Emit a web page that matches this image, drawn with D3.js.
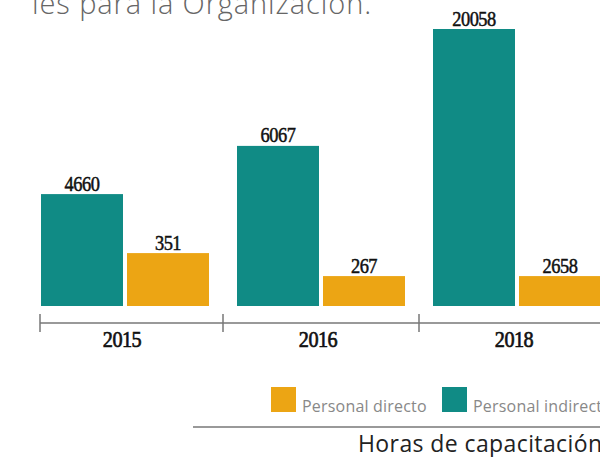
<!DOCTYPE html>
<html>
<head>
<meta charset="utf-8">
<script src="https://cdn.jsdelivr.net/npm/d3@7"></script>
<style>
  body { margin: 0; background: #fff; }
  svg { display: block; }
</style>
</head>
<body>
<svg id="chart" width="600" height="457"></svg>
<script>
// data
const years = ["2015", "2016", "2018"];
const series = ["Personal indirecto", "Personal directo"];
const indirecto = [4660, 6067, 20058];
const directo = [351, 267, 2658];
// drawn bar length in the infographic (index, tallest = 100), bars are not to scale with the labels
const indirectoLevel = [40.4, 57.8, 100];
const directoLevel = [19.1, 10.8, 10.8];
const colors = ["#108b85", "#eca514"];

const svg = d3.select("#chart");
const numFont = "'Liberation Serif', 'DejaVu Serif', serif";
const sansFont = "'Open Sans', 'Lato', sans-serif";

// title fragment, cut off by the top edge like in the source
svg.append("text")
    .attr("x", 32)
    .attr("y", 14)
    .attr("font-family", sansFont)
    .attr("font-weight", 300)
    .attr("font-size", 29)
    .attr("letter-spacing", 0.9)
    .attr("fill", "#666")
    .text("les para la Organización.");

const x = d3.scaleBand()
    .domain(years)
    .range([41, 601])
    .paddingInner(28 / 196)
    .paddingOuter(0);

const xInner = d3.scaleBand()
    .domain(series)
    .range([0, x.bandwidth()])
    .paddingInner(0.0465);

const y = d3.scaleLinear()
    .domain([0, 100])
    .range([306, 29]);

const rows = years.map((yr, i) => ({
    year: yr,
    bars: [
        { key: series[0], value: indirecto[i], level: indirectoLevel[i], color: colors[0] },
        { key: series[1], value: directo[i], level: directoLevel[i], color: colors[1] }
    ]
}));

const groups = svg.selectAll("g.year")
    .data(rows)
    .join("g")
    .attr("class", "year")
    .attr("transform", d => `translate(${x(d.year)},0)`);

groups.selectAll("rect")
    .data(d => d.bars)
    .join("rect")
    .attr("x", d => xInner(d.key))
    .attr("y", d => y(d.level))
    .attr("width", xInner.bandwidth())
    .attr("height", d => y(0) - y(d.level))
    .attr("fill", d => d.color);

// tall, slightly heavy slab digits
groups.selectAll("text.val")
    .data(d => d.bars)
    .join("text")
    .attr("class", "val")
    .attr("transform", d => `translate(${xInner(d.key) + xInner.bandwidth() / 2},${y(d.level) - 3.5}) scale(0.92,1)`)
    .attr("text-anchor", "middle")
    .attr("font-family", numFont)
    .attr("font-size", 20)
    .attr("letter-spacing", -0.5)
    .attr("fill", "#111")
    .attr("stroke", "#111")
    .attr("stroke-width", 0.5)
    .text(d => d.value);

// axis line with ticks between the groups
const axisY = 323;
const step = x.step();
const tickXs = [x(years[0]) - 1].concat(years.slice(1).map(yr => x(yr) - (step - x.bandwidth()) / 2));
svg.append("line")
    .attr("x1", tickXs[0]).attr("x2", 600)
    .attr("y1", axisY).attr("y2", axisY)
    .attr("stroke", "#777").attr("stroke-width", 1.5);
svg.selectAll("line.tick")
    .data(tickXs)
    .join("line")
    .attr("class", "tick")
    .attr("x1", d => d).attr("x2", d => d)
    .attr("y1", axisY - 9).attr("y2", axisY + 9)
    .attr("stroke", "#777").attr("stroke-width", 1.5);

groups.append("text")
    .attr("transform", `translate(${x.bandwidth() / 2 - 3},347) scale(0.88,1)`)
    .attr("text-anchor", "middle")
    .attr("font-family", numFont)
    .attr("font-size", 23)
    .attr("letter-spacing", -0.6)
    .attr("fill", "#111")
    .attr("stroke", "#111")
    .attr("stroke-width", 0.7)
    .text(d => d.year);

// legend
const legendItems = [
    { label: "Personal directo", color: colors[1], x: 271 },
    { label: "Personal indirecto", color: colors[0], x: 442 }
];
const legend = svg.selectAll("g.legend")
    .data(legendItems)
    .join("g")
    .attr("class", "legend")
    .attr("transform", d => `translate(${d.x},387)`);
legend.append("rect")
    .attr("width", 25).attr("height", 25)
    .attr("fill", d => d.color);
legend.append("text")
    .attr("x", 31).attr("y", 25)
    .attr("font-family", sansFont)
    .attr("font-size", 16)
    .attr("letter-spacing", 0.2)
    .attr("fill", "#888")
    .text(d => d.label);

svg.append("line")
    .attr("x1", 193).attr("x2", 600)
    .attr("y1", 427).attr("y2", 427)
    .attr("stroke", "#777").attr("stroke-width", 1.5);

svg.append("text")
    .attr("x", 358)
    .attr("y", 452)
    .attr("font-family", sansFont)
    .attr("font-size", 23)
    .attr("letter-spacing", 0.4)
    .attr("fill", "#222")
    .text("Horas de capacitación");
</script>
</body>
</html>
